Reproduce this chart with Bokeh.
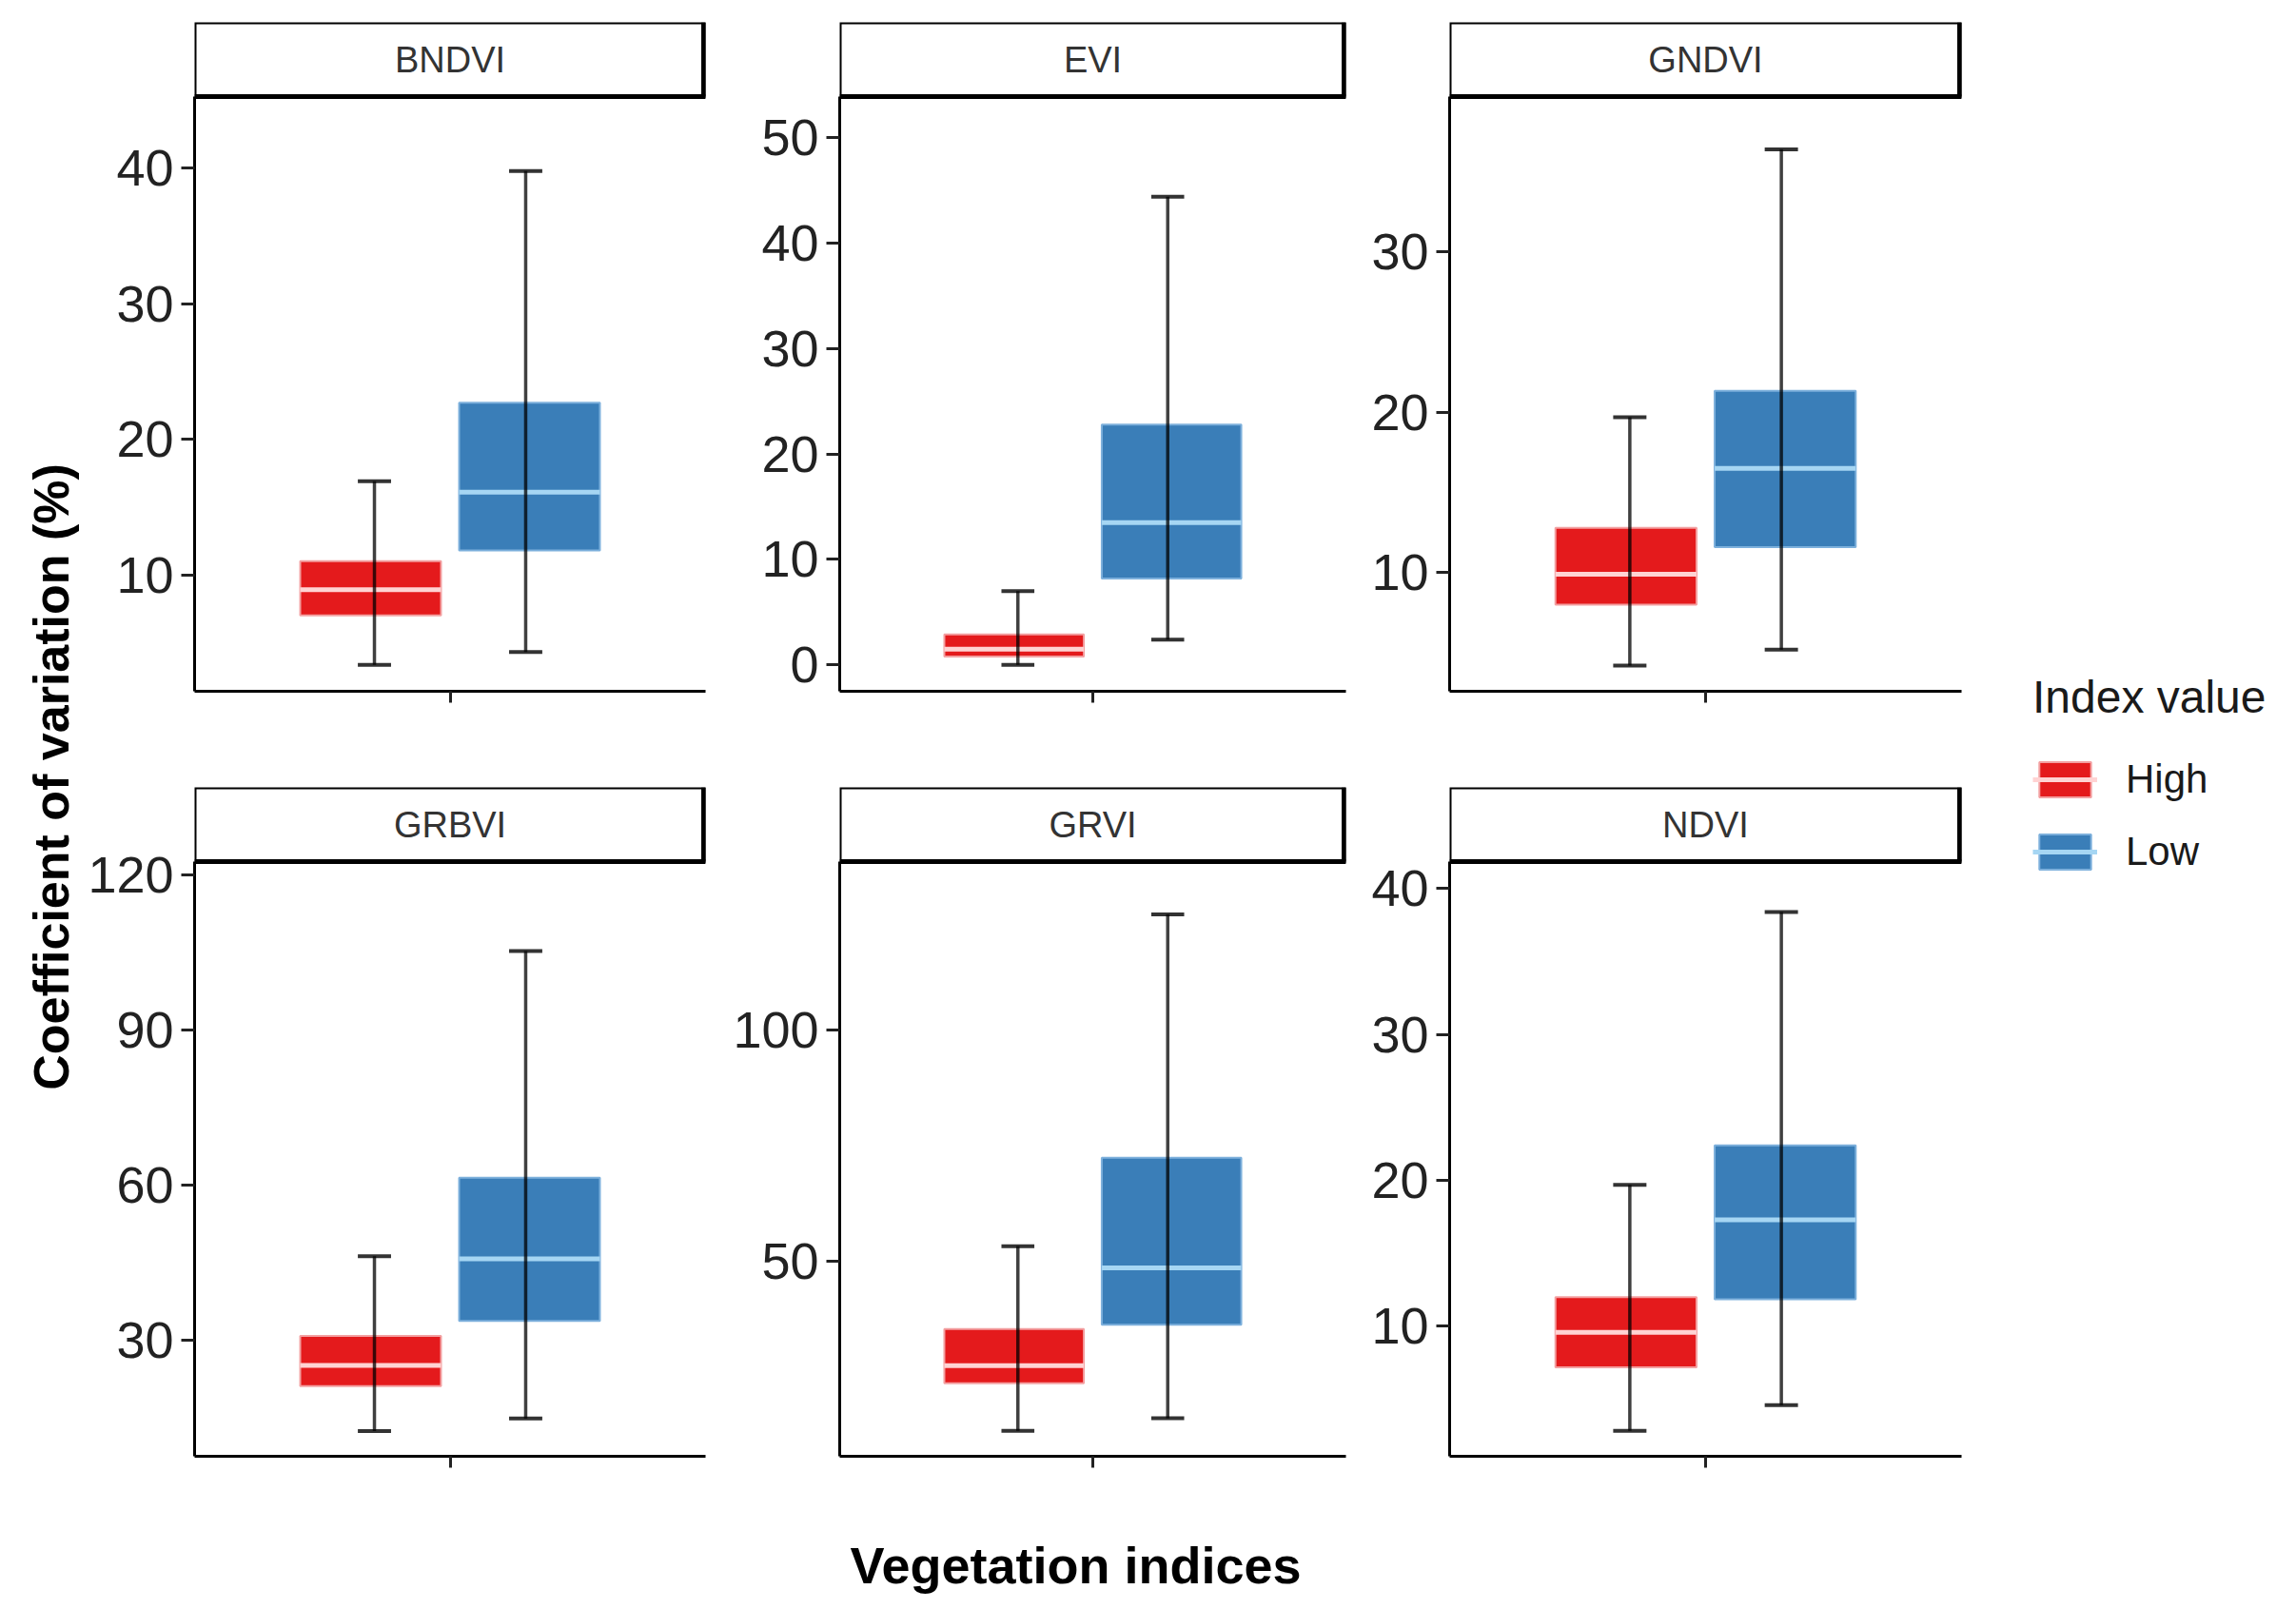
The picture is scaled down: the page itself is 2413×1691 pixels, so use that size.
import numpy as np
from bokeh.plotting import figure
from bokeh.models import (Range1d, FixedTicker, Label, Legend, LegendItem,
                          ColumnDataSource)
from bokeh.layouts import row, column
from bokeh.core.properties import value
from bokeh.embed import file_html
from bokeh.resources import INLINE

# ---------------- data ----------------
indices = ["BNDVI", "EVI", "GNDVI", "GRBVI", "GRVI", "NDVI"]
groups = ["High", "Low"]

high_whisker_low = [3.35, 0.0, 4.2, 12.4, 13.4, 2.85]
high_q1 = [7.0, 0.8, 8.0, 21.1, 23.7, 7.2]
high_median = [8.9, 1.5, 9.9, 25.1, 27.5, 9.6]
high_q3 = [11.0, 2.9, 12.8, 30.8, 35.4, 12.0]
high_whisker_high = [16.9, 7.0, 19.7, 46.2, 53.3, 19.7]

low_whisker_low = [4.3, 2.4, 5.2, 14.8, 16.1, 4.6]
low_q1 = [11.8, 8.2, 11.6, 33.7, 36.3, 11.85]
low_median = [16.1, 13.5, 16.5, 45.7, 48.6, 17.3]
low_q3 = [22.7, 22.8, 21.35, 61.4, 72.4, 22.4]
low_whisker_high = [39.8, 44.4, 36.4, 105.3, 125.0, 38.4]

y_axis_low = [1.4, -2.5, 2.6, 7.5, 7.9, 1.1]
y_axis_high = [45.3, 53.9, 39.7, 122.6, 136.4, 41.85]
y_tick_values = [[10, 20, 30, 40], [0, 10, 20, 30, 40, 50], [10, 20, 30],
                 [30, 60, 90, 120], [50, 100], [10, 20, 30, 40]]

legend_title = "Index value"
x_title = "Vegetation indices"
y_title = "Coefficient of variation (%)"

# ---------------- styling / layout ----------------
FONT = "Liberation Sans"
FILL = {"High": "#E41A1C", "Low": "#3A7EB8"}
EDGE = {"High": "#F3A0A1", "Low": "#7DB0DC"}
MED = {"High": "#FFD3D3", "Low": "#A6D6F3"}
BOX_CENTER = {"High": 0.3445, "Low": 0.6555}
BAR_CENTER = {"High": 0.352, "Low": 0.648}
BOX_W = 0.2756
CAP_W = 0.065

YLAB_W = 88
COL_W = [674, 672, 647]
COL_LEFT = [116, 120, 89]
COL_RIGHT = [21, 20, 20]
LEG_W = 310
ROW_H = [770, 800]
ROW_TOP = [23, 57]
ROW_BOTTOM = [44, 40]
FRAME_H = 703
STRIP_H = 78
XLAB_H = 110

series = {
    "High": (high_whisker_low, high_q1, high_median, high_q3, high_whisker_high),
    "Low": (low_whisker_low, low_q1, low_median, low_q3, low_whisker_high),
}


def make_panel(i, col, r):
    lo, hi = y_axis_low[i], y_axis_high[i]
    data_h = FRAME_H - STRIP_H
    top = hi + (hi - lo) * STRIP_H / data_h
    p = figure(width=COL_W[col], height=ROW_H[r],
               x_range=Range1d(0, 1), y_range=Range1d(lo, top),
               output_backend="svg", toolbar_location=None,
               min_border_left=COL_LEFT[col], min_border_right=COL_RIGHT[col],
               min_border_top=ROW_TOP[r], min_border_bottom=ROW_BOTTOM[r])
    p.outline_line_color = None
    p.grid.visible = False
    p.background_fill_color = "white"
    p.border_fill_color = "white"

    d = dict(left=[], right=[], bx=[], cl=[], cr=[], wlo=[], q1=[], med=[],
             q3=[], whi=[], fill=[], edge=[], medc=[])
    for g in groups:
        wl, a, m, b, wh = series[g]
        d["left"].append(BOX_CENTER[g] - BOX_W / 2)
        d["right"].append(BOX_CENTER[g] + BOX_W / 2)
        d["bx"].append(BAR_CENTER[g])
        d["cl"].append(BAR_CENTER[g] - CAP_W / 2)
        d["cr"].append(BAR_CENTER[g] + CAP_W / 2)
        d["wlo"].append(wl[i]); d["q1"].append(a[i]); d["med"].append(m[i])
        d["q3"].append(b[i]); d["whi"].append(wh[i])
        d["fill"].append(FILL[g]); d["edge"].append(EDGE[g]); d["medc"].append(MED[g])
    src = ColumnDataSource(d)

    p.quad(left="left", right="right", bottom="q1", top="q3", fill_color="fill",
           line_color="edge", line_width=2, source=src)
    p.segment(x0="left", x1="right", y0="med", y1="med", line_color="medc",
              line_width=5, source=src)
    p.segment(x0="bx", x1="bx", y0="wlo", y1="whi", line_color="black",
              line_alpha=0.75, line_width=3.5, source=src)
    p.segment(x0="cl", x1="cr", y0="wlo", y1="wlo", line_color="black",
              line_alpha=0.8, line_width=4, source=src)
    p.segment(x0="cl", x1="cr", y0="whi", y1="whi", line_color="black",
              line_alpha=0.8, line_width=4, source=src)

    # facet strip
    p.quad(left=[0], right=[1], bottom=[hi], top=[top], fill_color="white",
           line_color="black", line_width=4)
    p.segment(x0=[0], x1=[1], y0=[hi], y1=[hi], line_color="black", line_width=5)
    p.segment(x0=[1], x1=[1], y0=[hi], y1=[top], line_color="black", line_width=9)
    p.text(x=[0.5], y=[(hi + top) / 2], text=[indices[i]], text_align="center",
           text_baseline="middle", text_font=value(FONT), text_font_size="38px",
           text_color="#333333")

    ya = p.yaxis[0]
    ya.ticker = FixedTicker(ticks=y_tick_values[i])
    ya.bounds = (lo, hi)
    ya.major_label_text_font = FONT
    ya.major_label_text_font_size = "54px"
    ya.major_label_text_color = "#222222"
    ya.axis_line_width = 3
    ya.axis_line_color = "black"
    ya.major_tick_line_width = 3
    ya.major_tick_line_color = "#222222"
    ya.major_tick_out = 14
    ya.major_tick_in = 0
    ya.minor_tick_line_color = None
    ya.major_label_standoff = 8

    xa = p.xaxis[0]
    xa.ticker = FixedTicker(ticks=[0.5])
    xa.major_label_text_font_size = "2px"
    xa.major_label_text_color = None
    xa.axis_line_width = 3
    xa.axis_line_color = "black"
    xa.major_tick_line_width = 3
    xa.major_tick_line_color = "#222222"
    xa.major_tick_out = 12
    xa.major_tick_in = 0
    xa.minor_tick_line_color = None
    return p


cols = []
for c in range(3):
    cols.append(column(make_panel(c, c, 0), make_panel(c + 3, c, 1), spacing=0))

total_h = sum(ROW_H)

# y-axis title
ylab = figure(width=YLAB_W, height=total_h, x_range=Range1d(0, 1), y_range=Range1d(0, 1),
              output_backend="svg", toolbar_location=None, x_axis_type=None,
              y_axis_type=None, min_border_left=0, min_border_right=0,
              min_border_top=0, min_border_bottom=0)
ylab.outline_line_color = None
ylab.grid.visible = False
ylab.add_layout(Label(x=53, y=total_h - 816, x_units="screen", y_units="screen",
                      text=y_title, angle=np.pi / 2, text_align="center",
                      text_baseline="middle", text_font=FONT, text_font_size="52px",
                      text_font_style="bold", text_color="black"))

# legend
lf = figure(width=LEG_W, height=total_h, x_range=Range1d(0, 1), y_range=Range1d(0, 1),
            output_backend="svg", toolbar_location=None, x_axis_type=None,
            y_axis_type=None, min_border_left=55, min_border_right=0,
            min_border_top=705, min_border_bottom=0)
lf.outline_line_color = None
lf.grid.visible = False
items = []
for g in groups:
    rq = lf.quad(left=[np.nan], right=[np.nan], bottom=[np.nan], top=[np.nan],
                 fill_color=FILL[g], line_color=EDGE[g], line_width=2)
    rs = lf.segment(x0=[np.nan], y0=[np.nan], x1=[np.nan], y1=[np.nan],
                    line_color=MED[g], line_width=5)
    items.append(LegendItem(label=g, renderers=[rq, rs]))
leg = Legend(items=items, title=legend_title, location="top_left",
             orientation="vertical", glyph_width=68, glyph_height=46,
             label_height=46, label_standoff=30, spacing=28, padding=0, margin=0,
             title_standoff=35, border_line_color=None, background_fill_alpha=0,
             label_text_font=FONT, label_text_font_size="42px",
             label_text_color="#1a1a1a", title_text_font=FONT,
             title_text_font_size="48px", title_text_color="#1a1a1a",
             title_text_font_style="normal")
lf.add_layout(leg, "center")

top_row = row(column(ylab, spacing=0), *cols, column(lf, spacing=0), spacing=0)
total_w = YLAB_W + sum(COL_W) + LEG_W

# x-axis title
xlab = figure(width=total_w, height=XLAB_H, x_range=Range1d(0, 1), y_range=Range1d(0, 1),
              output_backend="svg", toolbar_location=None, x_axis_type=None,
              y_axis_type=None, min_border_left=0, min_border_right=0,
              min_border_top=0, min_border_bottom=0)
xlab.outline_line_color = None
xlab.grid.visible = False
xlab.add_layout(Label(x=1130, y=36, x_units="screen", y_units="screen",
                      text=x_title, text_align="center", text_baseline="middle",
                      text_font=FONT, text_font_size="54px", text_font_style="bold",
                      text_color="black"))

layout = column(top_row, xlab, spacing=0)
open("out.html", "w").write(file_html(layout, INLINE))
